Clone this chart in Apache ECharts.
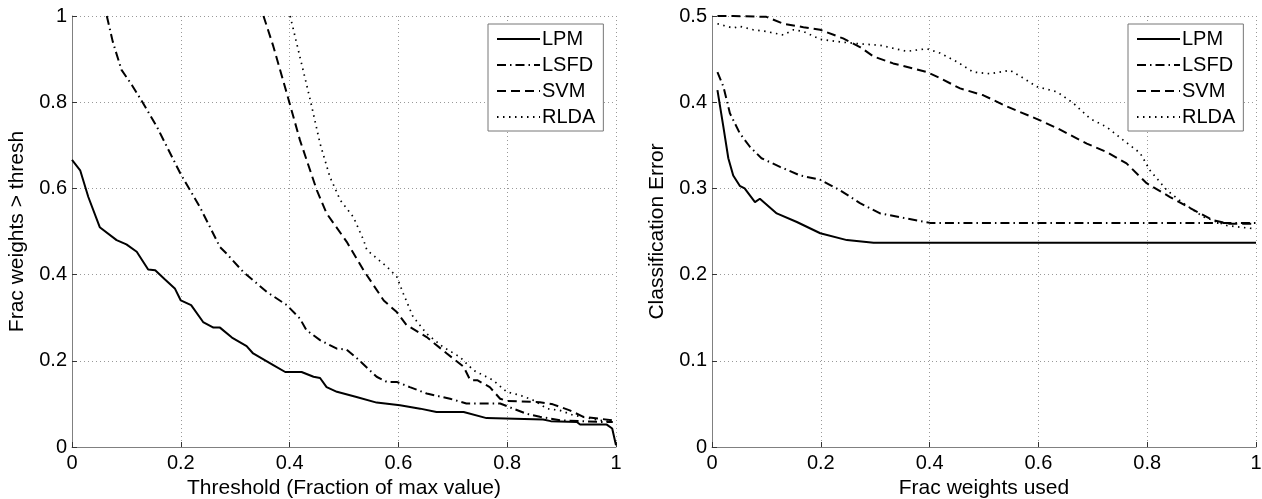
<!DOCTYPE html>
<html><head><meta charset="utf-8">
<script src="https://cdn.jsdelivr.net/npm/echarts@6/dist/echarts.min.js"></script>
<style>html,body{margin:0;padding:0;background:#fff}#c{width:1262px;height:499px}</style>
</head><body><div id="c"></div>
<script>
const seriesNames = ['LPM','LSFD','SVM','RLDA'];

// Left panel: Frac weights > thresh vs Threshold
const leftLPM = [[0,0.666],[0.015,0.642],[0.03,0.58],[0.051,0.51],[0.082,0.48],[0.1,0.47],[0.119,0.453],[0.14,0.412],[0.153,0.41],[0.17,0.39],[0.189,0.368],[0.2,0.34],[0.219,0.329],[0.241,0.29],[0.26,0.277],[0.272,0.277],[0.294,0.254],[0.321,0.234],[0.333,0.217],[0.37,0.19],[0.392,0.174],[0.422,0.174],[0.444,0.163],[0.456,0.16],[0.468,0.139],[0.487,0.128],[0.523,0.116],[0.56,0.103],[0.603,0.097],[0.64,0.089],[0.67,0.081],[0.72,0.081],[0.762,0.067],[0.866,0.064],[0.88,0.06],[0.928,0.058],[0.934,0.052],[0.983,0.052],[0.993,0.043],[1,0.004]];
const leftLSFD = [[0.064,1.0],[0.075,0.94],[0.091,0.875],[0.11,0.84],[0.131,0.797],[0.156,0.743],[0.199,0.635],[0.235,0.557],[0.272,0.464],[0.284,0.449],[0.315,0.406],[0.358,0.36],[0.395,0.329],[0.419,0.298],[0.431,0.271],[0.456,0.248],[0.487,0.228],[0.505,0.226],[0.529,0.2],[0.56,0.163],[0.579,0.151],[0.597,0.151],[0.621,0.139],[0.652,0.124],[0.695,0.112],[0.725,0.101],[0.787,0.101],[0.811,0.089],[0.836,0.077],[0.86,0.07],[0.897,0.062],[0.971,0.058],[0.994,0.058]];
const leftSVM = [[0.352,1.0],[0.37,0.93],[0.395,0.82],[0.419,0.712],[0.45,0.596],[0.468,0.542],[0.505,0.476],[0.536,0.41],[0.573,0.34],[0.597,0.313],[0.615,0.283],[0.652,0.255],[0.689,0.217],[0.72,0.186],[0.732,0.155],[0.745,0.155],[0.768,0.139],[0.787,0.112],[0.799,0.107],[0.86,0.104],[0.884,0.099],[0.915,0.085],[0.94,0.07],[0.994,0.062]];
const leftRLDA = [[0.401,1.0],[0.419,0.905],[0.438,0.805],[0.456,0.704],[0.474,0.627],[0.493,0.573],[0.517,0.534],[0.536,0.48],[0.542,0.457],[0.579,0.418],[0.597,0.395],[0.609,0.356],[0.627,0.302],[0.652,0.263],[0.682,0.232],[0.713,0.209],[0.738,0.178],[0.774,0.155],[0.799,0.128],[0.824,0.12],[0.849,0.108],[0.873,0.089],[0.897,0.085],[0.921,0.074],[0.97,0.062],[0.994,0.058]];

// Right panel: Classification Error vs Frac weights used
const rightLPM = [[0.01,0.414],[0.021,0.371],[0.03,0.335],[0.039,0.315],[0.051,0.303],[0.06,0.3],[0.079,0.284],[0.088,0.288],[0.119,0.271],[0.156,0.261],[0.199,0.248],[0.248,0.24],[0.297,0.237],[0.5,0.237],[0.75,0.237],[1,0.237]];
const rightLSFD = [[0.01,0.435],[0.021,0.418],[0.033,0.387],[0.051,0.364],[0.07,0.348],[0.091,0.335],[0.125,0.325],[0.162,0.315],[0.199,0.31],[0.235,0.298],[0.272,0.283],[0.309,0.271],[0.358,0.265],[0.401,0.26],[0.6,0.26],[0.8,0.26],[1,0.26]];
const rightSVM = [[0.01,0.5],[0.039,0.5],[0.1,0.499],[0.131,0.491],[0.168,0.487],[0.199,0.484],[0.241,0.474],[0.272,0.464],[0.297,0.453],[0.333,0.445],[0.395,0.435],[0.419,0.428],[0.456,0.416],[0.499,0.408],[0.542,0.395],[0.603,0.379],[0.634,0.37],[0.689,0.352],[0.726,0.342],[0.762,0.329],[0.799,0.306],[0.842,0.29],[0.885,0.275],[0.921,0.263],[0.952,0.259],[1,0.259]];
const rightRLDA = [[0.01,0.491],[0.039,0.486],[0.051,0.488],[0.076,0.484],[0.1,0.482],[0.131,0.478],[0.15,0.484],[0.168,0.482],[0.199,0.473],[0.235,0.47],[0.266,0.468],[0.309,0.466],[0.358,0.459],[0.395,0.462],[0.419,0.457],[0.45,0.447],[0.48,0.435],[0.511,0.433],[0.548,0.437],[0.572,0.428],[0.597,0.418],[0.634,0.412],[0.664,0.399],[0.695,0.381],[0.726,0.371],[0.756,0.356],[0.787,0.341],[0.805,0.321],[0.836,0.298],[0.866,0.283],[0.903,0.267],[0.946,0.257],[0.971,0.255],[1,0.253]];

const FONT = '"Liberation Sans", Arial, sans-serif';
const styles = {
  LPM:  {type:'solid', width:2},
  LSFD: {type:[9,4,1.5,4], width:2},
  SVM:  {type:[9,5], width:2},
  RLDA: {type:[1.5,4.5], width:1.7}
};
function xAx(idx, name){
  return {gridIndex:idx, type:'value', min:0, max:1, interval:0.2, name:name, nameLocation:'middle', nameGap:27,
    nameTextStyle:{fontFamily:FONT, fontSize:21, color:'#000'},
    axisLine:{show:true, lineStyle:{color:'#808080', width:1}},
    axisTick:{show:true, inside:true, length:5, lineStyle:{color:'#333'}},
    axisLabel:{fontFamily:FONT, fontSize:20, color:'#000', margin:6, formatter:v=>String(+v.toFixed(1))},
    splitLine:{show:true, lineStyle:{color:'#999', type:[1,3], width:1}}};
}
function yAx(idx, name, max, interval){
  return {gridIndex:idx, type:'value', min:0, max:max, interval:interval, name:name, nameLocation:'middle', nameGap:44,
    nameTextStyle:{fontFamily:FONT, fontSize:21, color:'#000'},
    axisLine:{show:true, lineStyle:{color:'#808080', width:1}},
    axisTick:{show:true, inside:true, length:5, lineStyle:{color:'#333'}},
    axisLabel:{fontFamily:FONT, fontSize:20, color:'#000', margin:5, formatter:v=>String(+v.toFixed(1))},
    splitLine:{show:true, lineStyle:{color:'#999', type:[1,3], width:1}}};
}
function mk(name, data, idx){
  return {name:name, type:'line', xAxisIndex:idx, yAxisIndex:idx, data:data, showSymbol:false, symbol:'none',
    lineStyle:Object.assign({color:'#000'}, styles[name]), itemStyle:{color:'#000'}, animation:false, clip:true};
}
function leg(left){
  return {orient:'vertical', left:left, top:24, align:'left', itemWidth:43, itemHeight:14, itemGap:6,
    padding:[5,8,4,8], borderColor:'#777', borderWidth:1, backgroundColor:'#fff',
    itemStyle:{opacity:0, borderWidth:0},
    textStyle:{fontFamily:FONT, fontSize:20, color:'#000', lineHeight:20, padding:[0,0,0,-3]},
    data:seriesNames.map(n=>({name:n}))};
}
const chart = echarts.init(document.getElementById('c'), null, {renderer:'canvas'});
chart.setOption({
  animation:false,
  grid:[{left:72, top:16, width:544, height:431, containLabel:false, outerBoundsMode:'none'},
        {left:712, top:16, width:544, height:431, containLabel:false, outerBoundsMode:'none'}],
  xAxis:[xAx(0,'Threshold (Fraction of max value)'), xAx(1,'Frac weights used')],
  yAxis:[yAx(0,'Frac weights > thresh',1,0.2), yAx(1,'Classification Error',0.5,0.1)],
  legend:[leg(488), leg(1128)],
  series:[mk('LPM',leftLPM,0),mk('LSFD',leftLSFD,0),mk('SVM',leftSVM,0),mk('RLDA',leftRLDA,0),
          mk('LPM',rightLPM,1),mk('LSFD',rightLSFD,1),mk('SVM',rightSVM,1),mk('RLDA',rightRLDA,1)]
});
</script></body></html>
